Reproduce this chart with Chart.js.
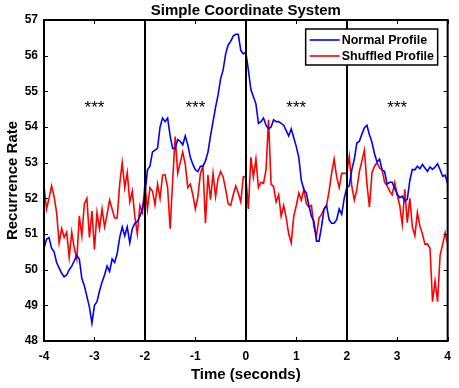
<!DOCTYPE html>
<html>
<head>
<meta charset="utf-8">
<script src="https://cdn.jsdelivr.net/npm/chart.js@4"></script>
<style>
  html, body { margin: 0; padding: 0; background: #fff; }
</style>
</head>
<body>
<canvas id="chart" width="459" height="388"></canvas>
<script>
// sampling of the time axis
const startTime = -4;
const sampleStep = 0.05;

// mean recurrence rate, every 50 ms
const normalProfile = [
    50.6, 50.85, 50.9, 50.6, 50.5, 50.2, 50.05, 49.9, 49.8, 49.85,
    50.0, 50.1, 50.25, 50.4, 50.3, 49.75, 49.55, 49.25, 48.95, 48.5,
    49.0, 49.1, 49.4, 49.65, 49.85, 50.1, 49.95, 50.3, 50.2, 50.45,
    50.9, 51.2, 50.95, 51.2, 50.75, 51.15, 51.3, 51.35, 51.5, 51.7,
    52.1,
    52.8, 52.9, 53.3, 53.35, 53.4, 54.0, 54.25, 54.15, 54.25, 53.75,
    53.4, 53.4, 53.65, 53.6, 53.5, 53.75, 53.5, 53.15, 52.95, 52.8,
    52.75, 52.9, 52.9, 53.05, 53.3, 53.75, 54.15, 54.55, 54.9, 55.35,
    55.6, 56.05, 56.3, 56.4, 56.55, 56.6, 56.6, 56.15, 56.05, 56.1,
    55.6, 55.05, 54.85, 54.65, 54.1, 54.15, 54.25, 54.05, 53.95, 54.0,
    54.2, 54.15, 54.15, 54.1, 54.05, 53.9, 53.75, 53.95, 53.7, 53.45,
    53.15, 52.5, 52.25, 52.15, 51.8, 51.5, 51.35, 50.8, 50.8, 51.2,
    51.7, 51.8, 51.4, 51.3, 51.3, 51.4, 51.7, 51.55, 52.0, 52.3,
    52.35, 52.8, 53.1, 53.55, 53.6, 53.8, 53.98, 54.05, 53.78, 53.57,
    53.25, 53.02, 53.1, 52.8, 52.75, 52.4, 52.45, 52.45, 52.28, 52.12,
    52.02, 52.06, 51.92, 51.97, 52.5, 52.81, 52.8, 52.9, 52.83, 52.95,
    52.85, 52.76, 52.88, 52.81, 52.88, 52.97, 52.8, 52.62, 52.65, 52.4
];

const shuffledProfile = [
    52.35, 51.7, 52.0, 52.35, 52.05, 51.6, 50.75, 51.15, 50.9, 51.05,
    50.35, 51.05, 50.6, 50.3, 51.5, 50.95, 51.85, 52.0, 50.9, 51.64,
    50.57, 51.6, 51.15, 51.7, 51.2, 51.55, 51.95, 51.7, 51.45, 51.45,
    52.4, 53.0, 52.3, 52.72, 51.9, 52.2, 51.5, 51.0, 51.8, 51.6,
    52.4,
    51.7, 52.3, 52.2, 51.82, 52.4, 52.0, 52.65, 52.66, 52.3, 51.15,
    52.5, 53.73, 52.7, 53.0, 53.3, 52.95, 52.3, 52.4, 52.1, 51.7,
    52.05, 52.7, 52.9, 51.3, 52.65, 51.96, 52.7, 52.05, 52.55, 52.75,
    52.6, 52.25, 51.85, 51.8, 52.1, 52.35, 52.15, 51.9, 52.6, 52.62,
    51.7, 53.15, 52.6, 53.1, 52.3, 52.45, 52.42, 52.8, 54.2, 52.4,
    52.33, 51.9, 52.1, 51.5, 51.8, 51.45, 51.0, 50.75, 51.5, 51.8,
    52.15, 51.95, 52.25, 51.85, 51.75, 51.8, 51.2, 50.95, 51.45, 51.55,
    51.7, 51.8, 52.2, 52.7, 53.1, 52.6, 52.3, 52.7, 52.7, 52.7,
    53.18, 52.34, 51.95, 52.25, 52.75, 53.05, 53.35, 52.4, 51.75, 52.72,
    52.9, 53.0, 52.85, 52.8, 52.45, 52.35, 52.2, 52.1, 52.44, 52.1,
    51.8, 51.27, 52.25, 51.32, 52.0, 51.2, 50.95, 51.6, 51.22, 51.0,
    50.71, 50.72, 50.6, 49.1, 49.68, 49.1, 50.4, 50.7, 51.04, 50.7
];

const seriesNames = ["Normal Profile", "Shuffled Profile"];
const seriesColors = ["#0000ff", "#ff0000"];
const xTicks = [-4, -3, -2, -1, 0, 1, 2, 3, 4];
const yTicks = [48, 49, 50, 51, 52, 53, 54, 55, 56, 57];
const dividers = [-2, 0, 2];
const starTimes = [-3, -1, 1, 3];
const starLevel = 54.68;
const starText = "***";
const titleText = "Simple Coordinate System";

const FONT = "'Liberation Sans', Arial, Helvetica, sans-serif";

const times = normalProfile.map((_, i) => +(startTime + i * sampleStep).toFixed(2));

function toPoints(values) {
    return values.map((v, i) => ({ x: times[i], y: v }));
}

// frame, inward ticks, divider lines, stars, title and legend
const decorPlugin = {
    id: "decor",
    afterDatasetsDraw(chart) {
        const ctx = chart.ctx;
        const area = chart.chartArea;
        const xs = chart.scales.x;
        const ys = chart.scales.y;
        ctx.save();

        ctx.strokeStyle = "#000";
        ctx.lineWidth = 2;
        dividers.forEach(t => {
            const px = Math.round(xs.getPixelForValue(t));
            ctx.beginPath();
            ctx.moveTo(px, area.top);
            ctx.lineTo(px, area.bottom);
            ctx.stroke();
        });

        ctx.lineWidth = 1;
        const tl = 4;
        xTicks.forEach(t => {
            const px = Math.round(xs.getPixelForValue(t)) + 0.5;
            ctx.beginPath();
            ctx.moveTo(px, area.bottom);
            ctx.lineTo(px, area.bottom - tl);
            ctx.moveTo(px, area.top);
            ctx.lineTo(px, area.top + tl);
            ctx.stroke();
        });
        yTicks.forEach(v => {
            const py = Math.round(ys.getPixelForValue(v)) + 0.5;
            ctx.beginPath();
            ctx.moveTo(area.left, py);
            ctx.lineTo(area.left + tl, py);
            ctx.moveTo(area.right, py);
            ctx.lineTo(area.right - tl, py);
            ctx.stroke();
        });

        ctx.lineWidth = 2;
        ctx.strokeRect(area.left, area.top, area.right - area.left, area.bottom - area.top);

        // significance stars
        ctx.fillStyle = "#000";
        ctx.font = "17px " + FONT;
        ctx.textAlign = "center";
        ctx.textBaseline = "alphabetic";
        starTimes.forEach(t => {
            ctx.fillText(starText, xs.getPixelForValue(t), ys.getPixelForValue(starLevel) + 10);
        });

        // title over the plot area
        ctx.font = "bold 15px " + FONT;
        ctx.textBaseline = "middle";
        ctx.fillText(titleText, (area.left + area.right) / 2, 11);

        // legend box
        const bx = area.right - 142, by = area.top + 9, bw = 132, bh = 36;
        ctx.fillStyle = "#fff";
        ctx.fillRect(bx, by, bw, bh);
        ctx.lineWidth = 1.5;
        ctx.strokeStyle = "#000";
        ctx.strokeRect(bx, by, bw, bh);
        ctx.font = "bold 12.5px " + FONT;
        ctx.textAlign = "left";
        seriesNames.forEach((name, i) => {
            const ly = by + 11 + i * 16;
            ctx.strokeStyle = seriesColors[i];
            ctx.lineWidth = 1.6;
            ctx.beginPath();
            ctx.moveTo(bx + 4, ly);
            ctx.lineTo(bx + 34, ly);
            ctx.stroke();
            ctx.fillStyle = "#000";
            ctx.fillText(name, bx + 36, ly + 1);
        });

        ctx.restore();
    }
};

const ctx = document.getElementById("chart").getContext("2d");

new Chart(ctx, {
    type: "line",
    data: {
        datasets: [
            {
                label: seriesNames[0],
                data: toPoints(normalProfile),
                borderColor: seriesColors[0],
                borderWidth: 1.6,
                pointRadius: 0,
                tension: 0,
                fill: false
            },
            {
                label: seriesNames[1],
                data: toPoints(shuffledProfile),
                borderColor: seriesColors[1],
                borderWidth: 1.6,
                pointRadius: 0,
                tension: 0,
                fill: false
            }
        ]
    },
    options: {
        responsive: false,
        animation: false,
        layout: { padding: { left: 0, right: 8, top: 20, bottom: 0 } },
        plugins: {
            legend: { display: false },
            title: { display: false },
            tooltip: { enabled: false }
        },
        scales: {
            x: {
                type: "linear",
                min: -4,
                max: 4,
                afterBuildTicks: s => { s.ticks = xTicks.map(v => ({ value: v })); },
                afterFit: s => { s.height = 47; },
                grid: { display: false, drawTicks: false },
                border: { display: false },
                ticks: {
                    color: "#000",
                    padding: 8,
                    maxRotation: 0,
                    autoSkip: false,
                    font: { family: FONT, size: 12, weight: "bold" },
                    callback: v => String(v)
                },
                title: {
                    display: true,
                    text: "Time (seconds)",
                    color: "#000",
                    font: { family: FONT, size: 15, weight: "bold" },
                    padding: { top: 0, bottom: 4 }
                }
            },
            y: {
                min: 48,
                max: 57,
                afterBuildTicks: s => { s.ticks = yTicks.map(v => ({ value: v })); },
                afterFit: s => { s.width = 44; },
                grid: { display: false, drawTicks: false },
                border: { display: false },
                ticks: {
                    color: "#000",
                    padding: 6,
                    autoSkip: false,
                    font: { family: FONT, size: 12, weight: "bold" },
                    callback: v => String(v)
                },
                title: {
                    display: true,
                    text: "Recurrence Rate",
                    color: "#000",
                    font: { family: FONT, size: 15, weight: "bold" },
                    padding: { top: 4, bottom: 0 }
                }
            }
        }
    },
    plugins: [decorPlugin]
});
</script>
</body>
</html>
